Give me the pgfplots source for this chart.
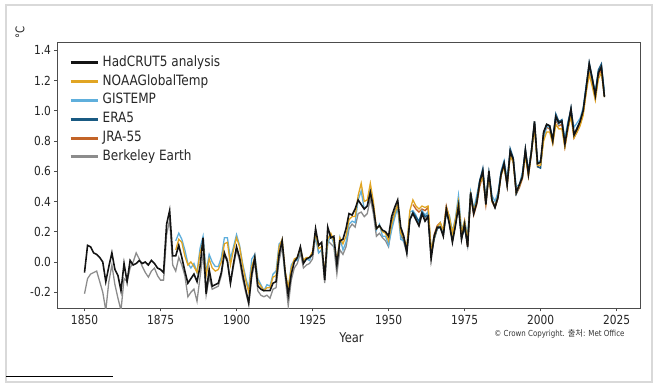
\documentclass[border=0pt]{standalone}
\usepackage{fontspec}
\setmainfont{DejaVu Sans}[FakeStretch=0.85]
\newfontfamily\krfont{Noto Sans CJK KR}
\usepackage{pgfplots}
\usepackage{pgfplotstable}
\pgfplotsset{compat=1.18}

\definecolor{cHad}{RGB}{20,20,20}
\definecolor{cNOAA}{RGB}{225,165,35}
\definecolor{cGISS}{RGB}{95,175,220}
\definecolor{cERA}{RGB}{25,90,130}
\definecolor{cJRA}{RGB}{195,100,40}
\definecolor{cBerk}{RGB}{140,140,140}

\pgfplotstableread{
year t
1850 -0.07
1851 0.11
1852 0.10
1853 0.06
1854 0.05
1855 0.03
1856 0.00
1857 -0.13
1858 -0.03
1859 0.06
1860 -0.05
1861 -0.09
1862 -0.19
1863 -0.01
1864 -0.13
1865 0.01
1866 -0.02
1867 -0.01
1868 0.01
1869 -0.01
1870 0.00
1871 -0.02
1872 0.01
1873 -0.01
1874 -0.04
1875 -0.05
1876 -0.07
1877 0.25
1878 0.34
1879 0.04
1880 0.04
1881 0.11
1882 0.03
1883 -0.06
1884 -0.14
1885 -0.11
1886 -0.08
1887 -0.13
1888 -0.03
1889 0.16
1890 -0.21
1891 -0.05
1892 -0.16
1893 -0.15
1894 -0.14
1895 -0.07
1896 0.06
1897 0.00
1898 -0.14
1899 -0.01
1900 0.10
1901 0.03
1902 -0.08
1903 -0.18
1904 -0.27
1905 -0.08
1906 0.03
1907 -0.16
1908 -0.18
1909 -0.19
1910 -0.19
1911 -0.19
1912 -0.14
1913 -0.13
1914 0.05
1915 0.14
1916 -0.07
1917 -0.22
1918 -0.08
1919 0.00
1920 0.03
1921 0.10
1922 -0.01
1923 0.02
1924 0.03
1925 0.05
1926 0.22
1927 0.11
1928 0.13
1929 -0.12
1930 0.23
1931 0.16
1932 0.17
1933 -0.02
1934 0.14
1935 0.15
1936 0.22
1937 0.32
1938 0.31
1939 0.35
1940 0.41
1941 0.38
1942 0.35
1943 0.37
1944 0.46
1945 0.36
1946 0.22
1947 0.24
1948 0.21
1949 0.20
1950 0.17
1951 0.30
1952 0.36
1953 0.41
1954 0.23
1955 0.17
1956 0.06
1957 0.28
1958 0.32
1959 0.28
1960 0.24
1961 0.32
1962 0.27
1963 0.30
1964 0.02
1965 0.17
1966 0.23
1967 0.23
1968 0.17
1969 0.35
1970 0.25
1971 0.13
1972 0.24
1973 0.37
1974 0.15
1975 0.25
1976 0.10
1977 0.46
1978 0.32
1979 0.39
1980 0.53
1981 0.60
1982 0.38
1983 0.60
1984 0.41
1985 0.36
1986 0.43
1987 0.58
1988 0.65
1989 0.51
1990 0.73
1991 0.68
1992 0.46
1993 0.51
1994 0.56
1995 0.74
1996 0.58
1997 0.73
1998 0.93
1999 0.65
2000 0.66
2001 0.86
2002 0.91
2003 0.90
2004 0.80
2005 0.96
2006 0.92
2007 0.93
2008 0.78
2009 0.90
2010 1.01
2011 0.84
2012 0.88
2013 0.93
2014 1.00
2015 1.15
2016 1.31
2017 1.21
2018 1.10
2019 1.25
2020 1.29
2021 1.09
}\hadcrut

\pgfplotstableread{
year t
1880 0.08
1881 0.15
1882 0.13
1883 0.04
1884 -0.02
1885 0.00
1886 -0.03
1887 -0.07
1888 0.06
1889 0.13
1890 -0.09
1891 0.02
1892 -0.04
1893 -0.06
1894 -0.05
1895 0.00
1896 0.12
1897 0.13
1898 -0.02
1899 0.08
1900 0.16
1901 0.10
1902 -0.02
1903 -0.12
1904 -0.20
1905 -0.03
1906 0.03
1907 -0.13
1908 -0.16
1909 -0.19
1910 -0.17
1911 -0.17
1912 -0.10
1913 -0.09
1914 0.10
1915 0.15
1916 -0.06
1917 -0.17
1918 -0.04
1919 0.02
1920 0.03
1921 0.09
1922 0.01
1923 0.03
1924 0.03
1925 0.07
1926 0.19
1927 0.09
1928 0.10
1929 -0.07
1930 0.15
1931 0.19
1932 0.14
1933 0.00
1934 0.16
1935 0.12
1936 0.17
1937 0.28
1938 0.30
1939 0.30
1940 0.44
1941 0.52
1942 0.40
1943 0.41
1944 0.52
1945 0.40
1946 0.22
1947 0.24
1948 0.20
1949 0.19
1950 0.14
1951 0.25
1952 0.32
1953 0.38
1954 0.19
1955 0.16
1956 0.10
1957 0.34
1958 0.41
1959 0.37
1960 0.35
1961 0.37
1962 0.36
1963 0.37
1964 0.08
1965 0.16
1966 0.23
1967 0.26
1968 0.21
1969 0.36
1970 0.30
1971 0.19
1972 0.28
1973 0.40
1974 0.19
1975 0.27
1976 0.14
1977 0.44
1978 0.34
1979 0.40
1980 0.52
1981 0.56
1982 0.40
1983 0.57
1984 0.40
1985 0.37
1986 0.43
1987 0.57
1988 0.63
1989 0.51
1990 0.70
1991 0.66
1992 0.46
1993 0.50
1994 0.56
1995 0.70
1996 0.57
1997 0.73
1998 0.88
1999 0.64
2000 0.64
2001 0.80
2002 0.86
2003 0.86
2004 0.78
2005 0.91
2006 0.88
2007 0.88
2008 0.76
2009 0.88
2010 0.96
2011 0.82
2012 0.86
2013 0.90
2014 0.97
2015 1.12
2016 1.24
2017 1.16
2018 1.07
2019 1.21
2020 1.25
2021 1.09
}\noaa

\pgfplotstableread{
year t
1880 0.14
1881 0.19
1882 0.15
1883 0.08
1884 -0.01
1885 -0.04
1886 -0.01
1887 -0.07
1888 0.09
1889 0.17
1890 -0.07
1891 0.05
1892 0.00
1893 -0.03
1894 -0.03
1895 0.03
1896 0.16
1897 0.16
1898 0.02
1899 0.10
1900 0.18
1901 0.11
1902 -0.01
1903 -0.10
1904 -0.18
1905 0.02
1906 0.05
1907 -0.11
1908 -0.15
1909 -0.19
1910 -0.15
1911 -0.16
1912 -0.08
1913 -0.06
1914 0.12
1915 0.14
1916 -0.08
1917 -0.18
1918 -0.02
1919 0.01
1920 0.01
1921 0.09
1922 0.00
1923 0.02
1924 0.01
1925 0.06
1926 0.17
1927 0.06
1928 0.08
1929 -0.08
1930 0.12
1931 0.18
1932 0.12
1933 -0.01
1934 0.16
1935 0.08
1936 0.13
1937 0.25
1938 0.27
1939 0.26
1940 0.41
1941 0.47
1942 0.35
1943 0.37
1944 0.48
1945 0.37
1946 0.21
1947 0.25
1948 0.17
1949 0.17
1950 0.11
1951 0.21
1952 0.29
1953 0.36
1954 0.15
1955 0.14
1956 0.09
1957 0.33
1958 0.34
1959 0.31
1960 0.25
1961 0.34
1962 0.31
1963 0.33
1964 0.08
1965 0.17
1966 0.22
1967 0.26
1968 0.20
1969 0.33
1970 0.31
1971 0.20
1972 0.29
1973 0.44
1974 0.21
1975 0.27
1976 0.18
1977 0.46
1978 0.35
1979 0.44
1980 0.54
1981 0.60
1982 0.42
1983 0.59
1984 0.44
1985 0.40
1986 0.46
1987 0.60
1988 0.67
1989 0.55
1990 0.73
1991 0.68
1992 0.50
1993 0.51
1994 0.59
1995 0.72
1996 0.61
1997 0.74
1998 0.89
1999 0.66
2000 0.67
2001 0.81
2002 0.90
2003 0.89
2004 0.81
2005 0.95
2006 0.91
2007 0.94
2008 0.82
2009 0.93
2010 1.00
2011 0.89
2012 0.92
2013 0.95
2014 1.02
2015 1.17
2016 1.29
2017 1.20
2018 1.13
2019 1.26
2020 1.29
2021 1.13
}\giss

\pgfplotstableread{
year t
1950 0.15
1951 0.27
1952 0.33
1953 0.38
1954 0.20
1955 0.15
1956 0.07
1957 0.28
1958 0.33
1959 0.30
1960 0.27
1961 0.33
1962 0.30
1963 0.31
1964 0.05
1965 0.15
1966 0.22
1967 0.23
1968 0.18
1969 0.33
1970 0.26
1971 0.15
1972 0.25
1973 0.37
1974 0.16
1975 0.22
1976 0.12
1977 0.44
1978 0.33
1979 0.41
1980 0.54
1981 0.62
1982 0.39
1983 0.59
1984 0.41
1985 0.36
1986 0.43
1987 0.59
1988 0.66
1989 0.51
1990 0.75
1991 0.69
1992 0.45
1993 0.50
1994 0.57
1995 0.75
1996 0.59
1997 0.74
1998 0.93
1999 0.63
2000 0.62
2001 0.85
2002 0.91
2003 0.90
2004 0.81
2005 0.98
2006 0.93
2007 0.94
2008 0.78
2009 0.91
2010 1.02
2011 0.84
2012 0.89
2013 0.93
2014 1.00
2015 1.16
2016 1.32
2017 1.22
2018 1.11
2019 1.27
2020 1.31
2021 1.10
}\era

\pgfplotstableread{
year t
1958 0.38
1959 0.35
1960 0.33
1961 0.35
1962 0.34
1963 0.36
1964 0.06
1965 0.18
1966 0.24
1967 0.26
1968 0.20
1969 0.37
1970 0.29
1971 0.17
1972 0.27
1973 0.39
1974 0.17
1975 0.27
1976 0.10
1977 0.44
1978 0.31
1979 0.38
1980 0.50
1981 0.57
1982 0.38
1983 0.58
1984 0.40
1985 0.36
1986 0.42
1987 0.58
1988 0.64
1989 0.50
1990 0.71
1991 0.67
1992 0.45
1993 0.49
1994 0.55
1995 0.72
1996 0.57
1997 0.72
1998 0.91
1999 0.63
2000 0.64
2001 0.84
2002 0.89
2003 0.88
2004 0.79
2005 0.94
2006 0.90
2007 0.91
2008 0.76
2009 0.88
2010 0.99
2011 0.82
2012 0.86
2013 0.91
2014 0.98
2015 1.13
2016 1.28
2017 1.19
2018 1.08
2019 1.23
2020 1.27
2021 1.10
}\jra

\pgfplotstableread{
year t
1850 -0.21
1851 -0.11
1852 -0.08
1853 -0.07
1854 -0.06
1855 -0.13
1856 -0.20
1857 -0.32
1858 -0.13
1859 -0.02
1860 -0.15
1861 -0.24
1862 -0.32
1863 -0.11
1864 -0.13
1865 -0.04
1866 0.00
1867 0.06
1868 0.02
1869 -0.03
1870 -0.07
1871 -0.10
1872 -0.06
1873 -0.04
1874 -0.09
1875 -0.12
1876 -0.12
1877 0.18
1878 0.28
1879 -0.02
1880 -0.06
1881 0.03
1882 -0.02
1883 -0.09
1884 -0.23
1885 -0.20
1886 -0.18
1887 -0.26
1888 -0.10
1889 0.06
1890 -0.22
1891 -0.10
1892 -0.18
1893 -0.17
1894 -0.16
1895 -0.09
1896 0.05
1897 0.02
1898 -0.14
1899 -0.03
1900 0.08
1901 0.01
1902 -0.11
1903 -0.20
1904 -0.28
1905 -0.10
1906 0.00
1907 -0.19
1908 -0.22
1909 -0.23
1910 -0.22
1911 -0.24
1912 -0.18
1913 -0.17
1914 0.01
1915 0.10
1916 -0.10
1917 -0.29
1918 -0.12
1919 -0.04
1920 -0.01
1921 0.06
1922 -0.04
1923 -0.02
1924 -0.01
1925 0.02
1926 0.17
1927 0.06
1928 0.08
1929 -0.14
1930 0.14
1931 0.12
1932 0.10
1933 -0.08
1934 0.08
1935 0.05
1936 0.10
1937 0.22
1938 0.25
1939 0.23
1940 0.32
1941 0.33
1942 0.30
1943 0.32
1944 0.42
1945 0.32
1946 0.17
1947 0.19
1948 0.16
1949 0.14
1950 0.10
1951 0.24
1952 0.31
1953 0.38
1954 0.18
1955 0.13
1956 0.06
1957 0.28
1958 0.33
1959 0.29
1960 0.24
1961 0.31
1962 0.29
1963 0.31
1964 0.04
1965 0.15
1966 0.22
1967 0.23
1968 0.18
1969 0.34
1970 0.27
1971 0.14
1972 0.25
1973 0.38
1974 0.16
1975 0.24
1976 0.11
1977 0.45
1978 0.33
1979 0.40
1980 0.53
1981 0.59
1982 0.39
1983 0.59
1984 0.41
1985 0.37
1986 0.44
1987 0.59
1988 0.66
1989 0.52
1990 0.73
1991 0.68
1992 0.46
1993 0.51
1994 0.57
1995 0.74
1996 0.59
1997 0.74
1998 0.92
1999 0.65
2000 0.66
2001 0.85
2002 0.90
2003 0.90
2004 0.80
2005 0.96
2006 0.92
2007 0.93
2008 0.79
2009 0.91
2010 1.01
2011 0.85
2012 0.88
2013 0.93
2014 1.00
2015 1.15
2016 1.30
2017 1.21
2018 1.10
2019 1.25
2020 1.28
2021 1.10
}\berk

\begin{document}
\begin{tikzpicture}[x=1pt,y=1pt]
\useasboundingbox (0,0) rectangle (658,387);
\draw[black!15, line width=1.5pt] (6,5) rectangle (652,382);
\draw[black, line width=1pt] (6,10) -- (113,10);
\begin{axis}[
  at={(57pt,78pt)}, anchor=south west,
  scale only axis, width=583pt, height=266pt,
  xmin=1840.95, xmax=2032.7,
  ymin=-0.311, ymax=1.448,
  xtick={1850,1875,1900,1925,1950,1975,2000,2025},
  xticklabels={1850,1875,1900,1925,1950,1975,2000,2025},
  ytick={-0.2,0,0.2,0.4,0.6,0.8,1.0,1.2,1.4},
  yticklabels={-0.2,0.0,0.2,0.4,0.6,0.8,1.0,1.2,1.4},
  tick align=outside, major tick length=2.5pt,
  tick style={black!70, line width=0.6pt},
  axis line style={black!70, line width=1pt},
  ticklabel style={font=\fontsize{12.5}{14}\selectfont, text=black!85},
  xtick pos=bottom, ytick pos=left,
  xlabel={Year},
  xlabel style={font=\fontsize{13.5}{16}\selectfont, text=black!85, at={(axis description cs:0.505,0)}, anchor=center, yshift=-29pt},
  ylabel={°C},
  ylabel style={font=\fontsize{12}{14}\selectfont, text=black!85, at={(axis description cs:0,1)}, anchor=center, xshift=11pt, yshift=37pt},
  legend cell align=left,
  legend image code/.code={\draw[#1, line width=3pt] (0pt,0pt) -- (27pt,0pt);},
  legend style={at={(0,1)}, anchor=north west, xshift=12pt, yshift=-11.5pt,
    draw=none, fill=none, inner sep=0pt, row sep=3.4pt, column sep=2.5pt,
    nodes={inner sep=1pt, text height=10.5pt, text depth=3pt, font=\fontsize{14.2}{17}\selectfont, text=black!85}},
]
\addlegendimage{cHad}\addlegendentry{HadCRUT5 analysis}
\addlegendimage{cNOAA}\addlegendentry{NOAAGlobalTemp}
\addlegendimage{cGISS}\addlegendentry{GISTEMP}
\addlegendimage{cERA}\addlegendentry{ERA5}
\addlegendimage{cJRA}\addlegendentry{JRA-55}
\addlegendimage{cBerk}\addlegendentry{Berkeley Earth}
\addplot[cBerk, line width=1.3pt, forget plot] table[x=year,y=t] {\berk};
\addplot[cJRA, line width=1.3pt, forget plot] table[x=year,y=t] {\jra};
\addplot[cGISS, line width=1.3pt, forget plot] table[x=year,y=t] {\giss};
\addplot[cERA, line width=1.3pt, forget plot] table[x=year,y=t] {\era};
\addplot[cNOAA, line width=1.3pt, forget plot] table[x=year,y=t] {\noaa};
\addplot[cHad, line width=1.6pt, forget plot] table[x=year,y=t] {\hadcrut};
\end{axis}
\node[anchor=east, font=\fontsize{8.3}{10}\selectfont, text=black!80] at (628,53) {© Crown Copyright. {\krfont 출처}: Met Office};
\end{tikzpicture}
\end{document}
